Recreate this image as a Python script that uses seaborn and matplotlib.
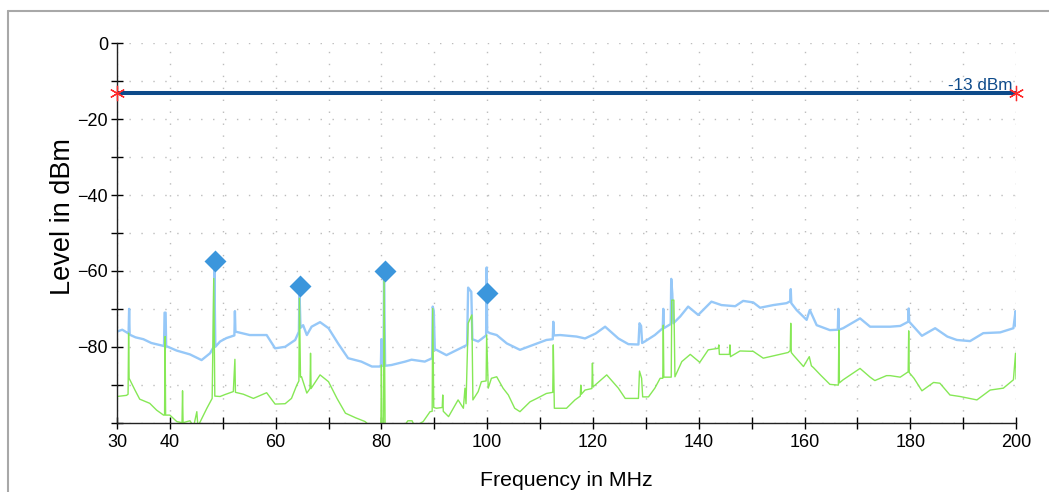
import matplotlib
matplotlib.use('Agg')
import matplotlib.pyplot as plt
from matplotlib.lines import Line2D
import seaborn as sns

# peak detector trace (MHz, dBm)
peak_freq = [30.0, 31.0, 32.2, 32.3, 32.4, 33.5, 35.0, 36.5, 38.0, 38.9, 39.0, 39.2, 39.3,
             41.3, 43.8, 46.0, 47.6, 48.3, 48.4, 48.6, 49.5, 50.7, 52.2, 52.3, 52.4, 55.1,
             58.3, 58.9, 59.9, 61.8, 63.7, 64.4, 64.5, 64.7, 65.2, 65.9, 66.8, 68.4, 70.0,
             71.8, 73.7, 76.2, 78.2, 79.7, 79.9, 80.0, 80.1, 80.4, 80.5, 80.7, 81.9, 84.5,
             85.7, 88.2, 89.6, 89.7, 89.9, 90.1, 90.4, 92.3, 94.9, 96.2, 96.4, 97.0, 97.2,
             98.3, 99.8, 99.9, 100.0, 100.5, 101.8, 103.7, 106.2, 108.7, 111.2, 112.4, 112.5,
             112.6, 113.8, 116.9, 118.5, 120.5, 122.3, 124.8, 126.7, 128.6, 128.8, 129.1,
             129.3, 129.8, 131.7, 133.2, 133.3, 133.4, 134.7, 134.8, 135.0, 135.2, 136.5,
             138.0, 139.9, 142.4, 144.3, 146.9, 148.4, 150.3, 151.6, 154.1, 156.6, 157.3,
             157.4, 157.5, 158.5, 160.4, 161.0, 162.3, 164.8, 166.3, 166.4, 166.5, 167.3,
             170.5, 172.4, 176.2, 178.1, 179.6, 179.7, 179.8, 182.2, 184.7, 187.0, 188.8,
             191.3, 193.8, 197.0, 199.5, 199.9, 200.0]
peak_level = [-76.0, -75.5, -76.5, -70.0, -76.8, -77.5, -78.0, -79.0, -79.5, -79.8, -71.0, -71.0, -79.8,
              -81.0, -82.0, -83.5, -81.7, -80.0, -58.5, -80.0, -78.6, -77.7, -77.0, -70.6, -76.0, -76.9,
              -76.9, -78.2, -80.4, -80.0, -78.2, -76.0, -65.0, -75.0, -74.3, -76.9, -74.7, -73.5, -75.1,
              -79.1, -83.0, -83.9, -85.2, -85.2, -85.0, -78.0, -85.0, -85.0, -61.0, -85.0, -84.8, -83.9,
              -83.4, -83.9, -83.0, -69.4, -70.5, -80.8, -80.8, -82.2, -80.4, -79.5, -64.4, -65.5, -78.0,
              -78.6, -77.0, -59.1, -76.0, -76.4, -76.9, -79.1, -80.8, -79.5, -78.2, -78.0, -73.4,
              -77.0, -76.9, -77.3, -77.8, -76.5, -74.7, -77.8, -79.3, -79.4, -73.8, -74.5,
              -79.0, -78.6, -76.9, -75.1, -70.0, -75.1, -74.0, -62.1, -66.0, -73.8, -72.0,
              -69.4, -71.6, -68.1, -69.0, -69.3, -67.9, -68.3, -69.7, -69.0, -68.5, -68.0,
              -64.8, -68.5, -70.3, -72.9, -70.3, -74.3, -75.6, -75.5, -70.0, -75.5, -75.1,
              -72.5, -74.7, -74.7, -74.5, -73.4, -69.9, -73.4, -77.1, -75.1, -77.3, -78.2,
              -78.5, -76.4, -76.2, -75.1, -70.6, -74.5]

# average detector trace (MHz, dBm)
avg_freq = [30.0, 31.8, 32.1, 32.2, 32.3, 33.4, 34.3, 36.2, 37.5, 38.8, 39.0, 39.1, 39.2, 40.0,
            41.3, 42.3, 42.4, 42.5, 43.8, 44.5, 45.1, 45.3, 47.0, 48.0, 48.3, 48.5, 49.5, 50.4,
            52.0, 52.3, 52.4, 53.9, 55.8, 58.3, 59.9, 61.8, 63.0, 64.0, 64.4, 64.5, 64.7, 64.9,
            65.9, 66.5, 66.6, 66.7, 68.4, 70.0, 71.6, 73.2, 75.1, 76.9, 78.0, 79.9, 80.0, 80.1,
            80.4, 80.5, 80.7, 84.5, 85.0, 85.8, 86.3, 87.9, 89.2, 89.6, 89.7, 89.9, 90.4, 91.5,
            91.6, 91.7, 92.7, 93.6, 94.5, 95.5, 95.8, 96.0, 96.4, 97.1, 97.3, 98.3, 98.9, 99.8,
            99.9, 100.2, 100.8, 101.8, 103.0, 104.0, 105.2, 106.2, 108.1, 109.4, 111.2, 112.4,
            112.5, 112.7, 115.0, 116.6, 117.6, 117.7, 117.8, 118.5, 119.8, 119.9, 120.0, 120.4,
            122.6, 124.8, 126.1, 128.6, 128.8, 129.2, 129.4, 130.5, 131.7, 132.7, 133.2, 133.3,
            133.4, 134.8, 134.9, 135.3, 135.5, 136.8, 138.4, 140.2, 141.8, 143.7, 143.8, 143.9,
            145.8, 145.9, 146.0, 147.8, 150.3, 152.2, 154.1, 156.9, 157.3, 157.4, 157.5, 157.9,
            159.8, 160.9, 161.3, 161.7, 163.0, 164.8, 166.4, 166.5, 166.6, 167.3, 170.5, 172.4,
            173.3, 175.5, 176.2, 178.1, 179.6, 179.7, 179.8, 180.7, 182.2, 184.4, 185.6, 187.5,
            189.4, 192.6, 195.1, 197.6, 199.5, 199.9, 200.0]
avg_level = [-93.1, -92.8, -92.5, -76.4, -88.3, -91.4, -93.8, -94.9, -96.7, -98.0, -98.0, -77.3, -98.0, -98.0,
             -99.7, -100.0, -91.6, -100.0, -99.5, -101.0, -97.1, -101.0, -96.2, -93.6, -62.0, -93.0, -93.1, -92.6,
             -91.8, -83.3, -92.0, -92.5, -93.6, -92.1, -95.1, -95.0, -93.6, -90.1, -89.0, -67.2, -88.0, -87.9,
             -92.2, -91.0, -81.7, -91.0, -87.4, -89.2, -93.6, -97.5, -98.7, -99.7, -101.0, -101.0, -84.8, -101.0,
             -101.0, -62.0, -101.0, -100.5, -99.5, -99.5, -101.0, -99.7, -97.1, -97.0, -69.9, -96.0, -96.2, -96.0,
             -92.7, -97.0, -98.4, -96.2, -94.0, -96.2, -90.9, -95.0, -73.8, -71.6, -94.0, -91.8, -89.2, -89.0,
             -76.9, -90.9, -88.3, -87.9, -90.9, -92.7, -96.2, -97.1, -94.5, -93.6, -92.3, -92.0,
             -79.5, -96.2, -96.2, -94.0, -93.0, -90.1, -92.5, -91.4, -91.0, -84.3, -90.5, -90.1,
             -87.4, -90.9, -93.6, -93.6, -86.4, -88.3, -93.2, -93.2, -90.9, -88.3, -88.3, -74.3,
             -88.0, -88.0, -67.7, -67.7, -87.9, -83.9, -82.0, -84.1, -80.8, -80.4, -79.5, -82.0,
             -82.0, -79.5, -82.6, -81.1, -81.2, -83.0, -82.4, -81.5, -81.0, -73.8, -81.5, -82.2,
             -85.2, -82.6, -85.0, -85.5, -87.4, -89.9, -90.1, -75.6, -89.5, -88.7, -85.7, -88.0,
             -88.9, -87.6, -87.6, -88.0, -86.6, -75.8, -86.8, -88.3, -91.6, -89.4, -89.6, -92.7,
             -93.1, -94.0, -91.4, -90.9, -88.7, -81.7, -88.5]

# peak markers
marker_freq = [48.5, 64.6, 80.6, 100.0]
marker_level = [-57.5, -64.0, -60.0, -65.8]

# limit line
limit_freq = [30, 200]
limit_level = [-13, -13]
limit_text = '-13 dBm'

x_major = [30, 40, 60, 80, 100, 120, 140, 160, 180, 200]
x_minor = [50, 70, 90, 110, 130, 150, 170, 190]
y_major = [-80, -60, -40, -20, 0]
y_minor = [-100, -90, -70, -50, -30, -10]

sns.set_theme(style='white')
plt.rcParams['font.family'] = ['Liberation Sans', 'DejaVu Sans']

fig = plt.figure(figsize=(10.49, 4.92), dpi=100)
ax = fig.add_axes([0.1115, 0.1409, 0.8571, 0.7711])

sns.lineplot(x=peak_freq, y=peak_level, estimator=None, sort=False,
             color='#96c8f8', linewidth=1.7, ax=ax)
sns.lineplot(x=avg_freq, y=avg_level, estimator=None, sort=False,
             color='#86e856', linewidth=1.0, ax=ax)
sns.lineplot(x=limit_freq, y=limit_level, estimator=None, sort=False,
             color='#0d4a8a', linewidth=2.9, ax=ax)
ax.plot(limit_freq, limit_level, ls='none', marker=(6, 2, 0), markersize=11,
        markeredgecolor='#ff2a2a', markeredgewidth=0.9, clip_on=False, zorder=6)
sns.scatterplot(x=marker_freq, y=marker_level, marker='D', s=125,
                color='#3b96dc', linewidth=0, zorder=5, ax=ax)
ax.text(199.4, -12.3, limit_text, ha='right', va='baseline',
        color='#0d4a8a', fontsize=12.3)

ax.set_xlim(30, 200)
ax.set_ylim(-100, 0)
ax.set_xticks(x_major)
ax.set_xticks(x_minor, minor=True)
ax.set_yticks(y_major)
ax.set_yticks(y_minor, minor=True)
ax.tick_params(which='both', direction='inout', length=9, width=1,
               color='black', labelsize=13, labelcolor='black')
ax.tick_params(axis='x', which='both', pad=4, bottom=True)
ax.tick_params(axis='y', which='both', pad=2, left=True)
ax.grid(True, which='both', color='#bcbcbc', linewidth=1.0,
        linestyle=(0, (1, 7.6)))

sns.despine(ax=ax)
for side in ['left', 'bottom']:
    ax.spines[side].set_color('#222222')
    ax.spines[side].set_linewidth(1.0)

ax.set_xlabel('Frequency in MHz', fontsize=15.3, labelpad=14, color='black')
ax.set_ylabel('Level in dBm', fontsize=19.5, color='black')
ax.yaxis.set_label_coords(-0.0456, 0.542)

# outer frame of the screenshot
fig.add_artist(Line2D([8 / 1049, 8 / 1049], [0, 1 - 11 / 492],
                      transform=fig.transFigure, color='#a8a8a8', linewidth=1.5))
fig.add_artist(Line2D([8 / 1049, 1], [1 - 11 / 492, 1 - 11 / 492],
                      transform=fig.transFigure, color='#a8a8a8', linewidth=1.5))

fig.savefig('out.png', dpi=100)
